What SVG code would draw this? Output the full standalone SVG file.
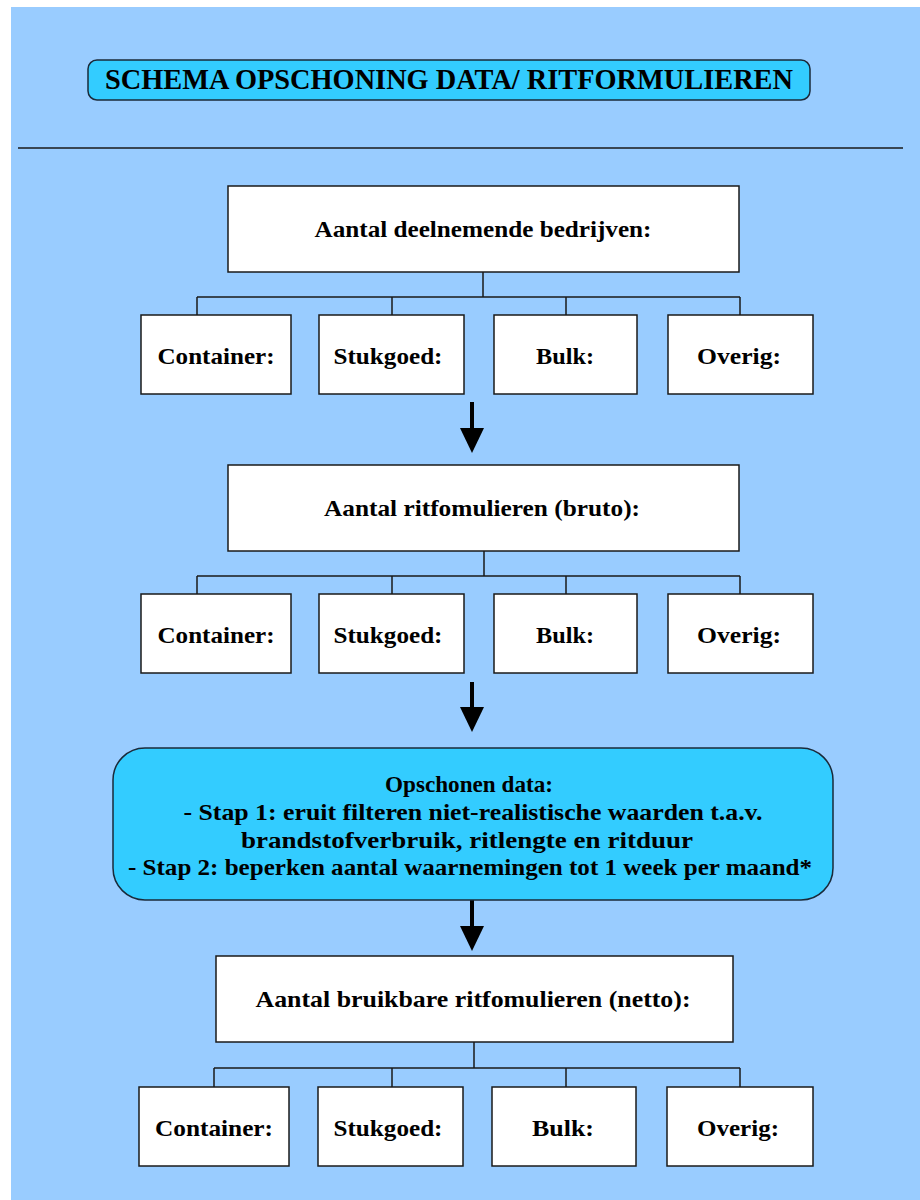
<svg xmlns="http://www.w3.org/2000/svg" width="920" height="1200" viewBox="0 0 920 1200">
<style>
.box{fill:#ffffff;stroke:#1a1a1a;stroke-width:1.5}
.rbox{fill:#33ccff;stroke:#1a2a3a;stroke-width:1.5}
.conn{fill:none;stroke:#1a1a1a;stroke-width:1.5}
.shaft{stroke:#000;stroke-width:4}
.t{font-family:"Liberation Serif","Times New Roman",serif;font-weight:bold;font-size:24px;fill:#000;text-anchor:middle}
.title{font-family:"Liberation Serif","Times New Roman",serif;font-weight:bold;font-size:29px;fill:#000;text-anchor:middle}
</style>
<defs>
<polygon id="head" points="-12,0 12,0 0,25" fill="#000"/>
</defs>
<rect x="0" y="0" width="920" height="1200" fill="#ffffff"/>
<rect x="11" y="7" width="909" height="1193" fill="#99ccff"/>

<g id="title">
<rect class="rbox" x="88" y="60" width="722" height="40" rx="9"/>
<text class="title" x="449" y="89" textLength="688" lengthAdjust="spacingAndGlyphs">SCHEMA OPSCHONING DATA/ RITFORMULIEREN</text>
</g>
<line x1="18" y1="148" x2="903" y2="148" stroke="#1a1a1a" stroke-width="1.5"/>

<g id="connectors">
<path class="conn" d="M483,272 V297 M197,297 H740 M197,297 V315 M392,297 V315 M566,297 V315 M740,297 V315"/>
<path class="conn" d="M484,551 V576 M197,576 H740 M197,576 V594 M392,576 V594 M566,576 V594 M740,576 V594"/>
<path class="conn" d="M474,1042 V1068 M214,1068 H740 M214,1068 V1087 M392,1068 V1087 M566,1068 V1087 M740,1068 V1087"/>
<line class="shaft" x1="472" y1="402" x2="472" y2="430"/>
<use href="#head" x="472" y="428"/>
<line class="shaft" x1="472" y1="682" x2="472" y2="709"/>
<use href="#head" x="472" y="707"/>
<line class="shaft" x1="472" y1="900" x2="472" y2="928"/>
<use href="#head" x="472" y="926"/>
</g>

<g id="n1">
<rect class="box" x="228" y="186" width="511" height="86"/>
<text class="t" x="483" y="237" textLength="337" lengthAdjust="spacingAndGlyphs">Aantal deelnemende bedrijven:</text>
</g>
<g id="n1a"><rect class="box" x="141" y="315" width="150" height="79"/><text class="t" x="216" y="364" textLength="117" lengthAdjust="spacingAndGlyphs">Container:</text></g>
<g id="n1b"><rect class="box" x="319" y="315" width="145" height="79"/><text class="t" x="388" y="364" textLength="109" lengthAdjust="spacingAndGlyphs">Stukgoed:</text></g>
<g id="n1c"><rect class="box" x="494" y="315" width="143" height="79"/><text class="t" x="565" y="364" textLength="58" lengthAdjust="spacingAndGlyphs">Bulk:</text></g>
<g id="n1d"><rect class="box" x="668" y="315" width="145" height="79"/><text class="t" x="739" y="364" textLength="84" lengthAdjust="spacingAndGlyphs">Overig:</text></g>

<g id="n2">
<rect class="box" x="228" y="465" width="511" height="86"/>
<text class="t" x="482" y="516" textLength="316" lengthAdjust="spacingAndGlyphs">Aantal ritfomulieren (bruto):</text>
</g>
<g id="n2a"><rect class="box" x="141" y="594" width="150" height="79"/><text class="t" x="216" y="643" textLength="117" lengthAdjust="spacingAndGlyphs">Container:</text></g>
<g id="n2b"><rect class="box" x="319" y="594" width="145" height="79"/><text class="t" x="388" y="643" textLength="109" lengthAdjust="spacingAndGlyphs">Stukgoed:</text></g>
<g id="n2c"><rect class="box" x="494" y="594" width="143" height="79"/><text class="t" x="565" y="643" textLength="58" lengthAdjust="spacingAndGlyphs">Bulk:</text></g>
<g id="n2d"><rect class="box" x="668" y="594" width="145" height="79"/><text class="t" x="739" y="643" textLength="84" lengthAdjust="spacingAndGlyphs">Overig:</text></g>

<g id="clean">
<rect class="rbox" x="113" y="748" width="720" height="152" rx="32"/>
<text class="t" x="469" y="792" textLength="168" lengthAdjust="spacingAndGlyphs">Opschonen data:</text>
<text class="t" x="473" y="820" textLength="579" lengthAdjust="spacingAndGlyphs">- Stap 1: eruit filteren niet-realistische waarden t.a.v.</text>
<text class="t" x="467" y="848" textLength="452" lengthAdjust="spacingAndGlyphs">brandstofverbruik, ritlengte en ritduur</text>
<text class="t" x="470" y="875" textLength="684" lengthAdjust="spacingAndGlyphs">- Stap 2: beperken aantal waarnemingen tot 1 week per maand*</text>
</g>

<g id="n3">
<rect class="box" x="216" y="956" width="517" height="86"/>
<text class="t" x="473" y="1007" textLength="435" lengthAdjust="spacingAndGlyphs">Aantal bruikbare ritfomulieren (netto):</text>
</g>
<g id="n3a"><rect class="box" x="139" y="1087" width="150" height="79"/><text class="t" x="214" y="1136" textLength="118" lengthAdjust="spacingAndGlyphs">Container:</text></g>
<g id="n3b"><rect class="box" x="318" y="1087" width="145" height="79"/><text class="t" x="388" y="1136" textLength="109" lengthAdjust="spacingAndGlyphs">Stukgoed:</text></g>
<g id="n3c"><rect class="box" x="492" y="1087" width="144" height="79"/><text class="t" x="563" y="1136" textLength="62" lengthAdjust="spacingAndGlyphs">Bulk:</text></g>
<g id="n3d"><rect class="box" x="667" y="1087" width="146" height="79"/><text class="t" x="738" y="1136" textLength="82" lengthAdjust="spacingAndGlyphs">Overig:</text></g>
</svg>
